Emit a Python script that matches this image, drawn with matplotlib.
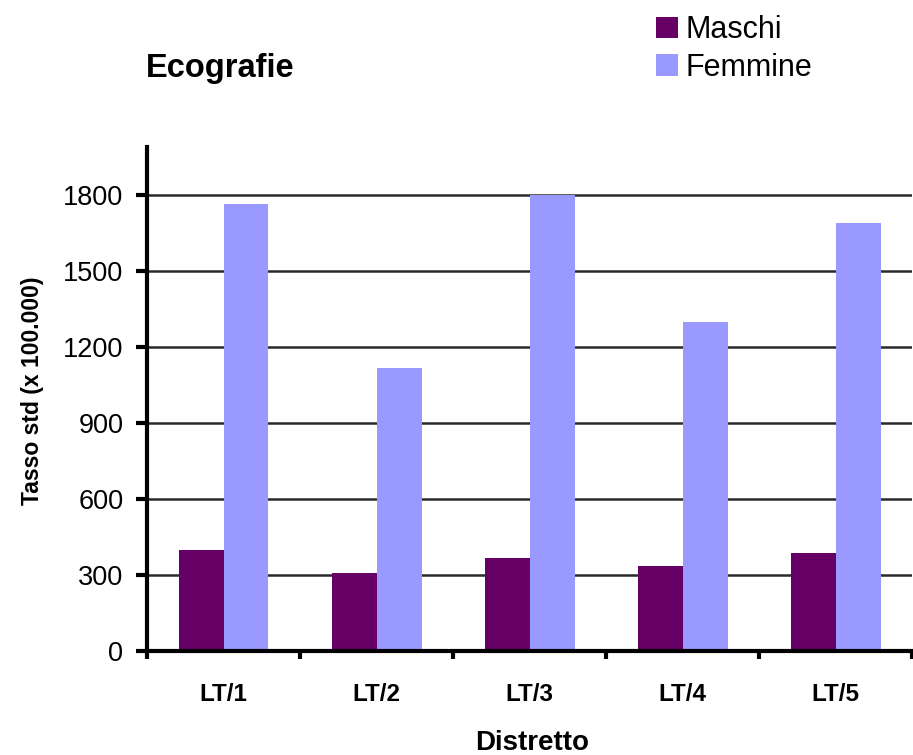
import matplotlib
matplotlib.use('Agg')
import matplotlib.pyplot as plt
import numpy as np

plt.rcParams['font.family'] = ['Liberation Sans', 'DejaVu Sans']

distretti = ['LT/1', 'LT/2', 'LT/3', 'LT/4', 'LT/5']
maschi = [399, 308, 367, 336, 387]
femmine = [1765, 1117, 1802, 1299, 1690]
yticks = [0, 300, 600, 900, 1200, 1500, 1800]

fig = plt.figure(figsize=(9.13, 7.55), dpi=100)
ax = fig.add_axes([0.161, 0.1377, 0.838, 0.6676])

x = np.arange(len(distretti))
w = 0.294
ax.bar(x - w / 2, maschi, w, color='#660066', label='Maschi', zorder=3)
ax.bar(x + w / 2, femmine, w, color='#9999FF', label='Femmine', zorder=3)

ax.set_xlim(-0.5, len(distretti) - 0.5)
ax.set_ylim(0, 1990)
ax.set_yticks(yticks)
ax.set_yticklabels([str(v) for v in yticks], fontsize=19.5)
ax.yaxis.grid(True, color='#2a2a2a', linewidth=1.8, zorder=1)
ax.set_axisbelow(True)

# category labels in the middle, ticks on the boundaries
ax.set_xticks(x)
ax.set_xticklabels(distretti, fontsize=17.5, fontweight='bold')
ax.tick_params(axis='x', which='major', length=0, pad=23)
ax.set_xticks(np.arange(-0.5, len(distretti)), minor=True)
ax.tick_params(axis='x', which='minor', length=6, width=3, direction='out')
ax.tick_params(axis='y', length=8, width=3, direction='out', pad=9)

for s in ['top', 'right']:
    ax.spines[s].set_visible(False)
for s in ['left', 'bottom']:
    ax.spines[s].set_linewidth(3)
    ax.spines[s].set_zorder(4)

ax.set_ylabel('Tasso std (x 100.000)', fontsize=16.5, fontweight='bold', va='center')
ax.yaxis.set_label_coords(-0.150, 0.516)
ax.set_xlabel('Distretto', fontsize=20, fontweight='bold', va='baseline')
ax.xaxis.set_label_coords(0.503, -0.196)

fig.text(146 / 913, 1 - 77 / 755, 'Ecografie', fontsize=23.5, fontweight='bold',
         va='baseline', ha='left')

fig.legend(loc='upper left', bbox_to_anchor=(644 / 913, 1 - 3 / 755), frameon=False,
           fontsize=22, handlelength=0.72, handleheight=0.72, handletextpad=0.25,
           labelspacing=0.25, borderaxespad=0)

fig.savefig('out.png', dpi=100)
